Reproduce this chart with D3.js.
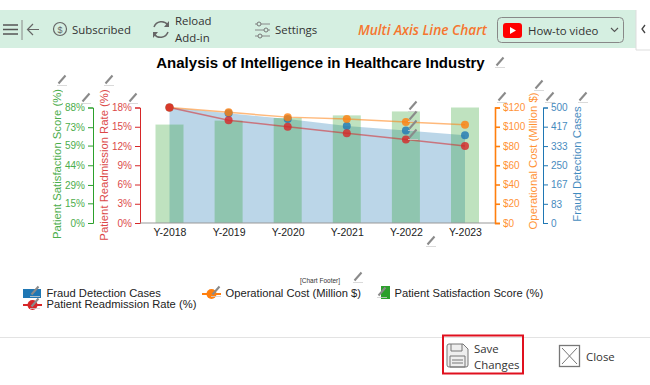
<!DOCTYPE html>
<html>
<head>
<meta charset="utf-8">
<script src="https://cdn.jsdelivr.net/npm/d3@7"></script>
<style>
  html, body { margin: 0; padding: 0; background: #fff; overflow: hidden; }
  svg { display: block; }
  text { font-family: "Liberation Sans", sans-serif; }
  .ui { font-family: "Open Sans", sans-serif; fill: #333; font-size: 11.4px; }
</style>
</head>
<body>
<svg id="chart" width="650" height="385"></svg>
<script>
// Chart values
const years = ['Y-2018', 'Y-2019', 'Y-2020', 'Y-2021', 'Y-2022', 'Y-2023'];
const fraudCases = [500, 475, 450, 420, 400, 380];
const operationalCost = [120, 115, 110, 108, 105, 102];
const satisfactionScore = [75, 78, 80, 82, 85, 88];
const readmissionRate = [18, 16, 15, 14, 13, 12];

const satisfactionTicks = [0, 15, 29, 44, 59, 73, 88];
const readmissionTicks = [0, 3, 6, 9, 12, 15, 18];
const costTicks = [0, 20, 40, 60, 80, 100, 120];
const fraudTicks = [0, 83, 167, 250, 333, 417, 500];

const blue = '#1f77b4', orange = '#ff7f0e', green = '#2ca02c', red = '#d62728';

const svg = d3.select('#chart');
const margin = { top: 107.5, bottom: 223, left: 140, right: 495 };

// Scales
const xScale = d3.scalePoint().domain(years).range([169.5, 465]);
const range = [margin.bottom, margin.top];
const ySatisfaction = d3.scaleLinear().domain([0, 88]).range(range);
const yReadmission = d3.scaleLinear().domain([0, 18]).range(range);
const yCost = d3.scaleLinear().domain([0, 120]).range(range);
const yFraud = d3.scaleLinear().domain([0, 500]).range(range);

/***** Toolbar *****/
svg.append('rect').attr('x', 0).attr('y', 10).attr('width', 636).attr('height', 38).attr('fill', '#d5efe1');
svg.append('path').attr('d', 'M636 10V50H650').attr('fill', 'none').attr('stroke', '#ddd');
svg.append('path').attr('d', 'M645 25l-3 4l3 4').attr('fill', 'none').attr('stroke', '#444').attr('stroke-width', 1.3);

// hamburger + back arrow
svg.append('path').attr('d', 'M3 25H18M3 29.5H18M3 34H18').attr('stroke', '#555').attr('stroke-width', 1.6);
svg.append('path').attr('d', 'M22 20V40').attr('stroke', '#888').attr('stroke-width', 1);
svg.append('path').attr('d', 'M39 29.5H28M33 24l-5.5 5.5l5.5 5.5').attr('fill', 'none').attr('stroke', '#666').attr('stroke-width', 1.2);

// subscribed
svg.append('circle').attr('cx', 60).attr('cy', 29).attr('r', 6.5).attr('fill', 'none').attr('stroke', '#666').attr('stroke-width', 1.2);
svg.append('text').attr('x', 60).attr('y', 32.5).attr('text-anchor', 'middle').attr('font-size', 9).attr('fill', '#666').text('$');
svg.append('text').attr('class', 'ui').attr('x', 72).attr('y', 34).text('Subscribed');

// reload
svg.append('path').attr('d', 'M154 27a8 8 0 0 1 14 -2M168 32a8 8 0 0 1 -14 2').attr('fill', 'none').attr('stroke', '#666').attr('stroke-width', 1.5);
svg.append('path').attr('d', 'M169 21v6h-5zM153 38v-6h5z').attr('fill', '#666');
svg.append('text').attr('class', 'ui').attr('x', 175).attr('y', 25).text('Reload');
svg.append('text').attr('class', 'ui').attr('x', 175).attr('y', 42).text('Add-in');

// settings
svg.append('path').attr('d', 'M255 24H270M255 30H270M255 36H270').attr('stroke', '#888').attr('stroke-width', 1);
[[259, 24], [266, 30], [260, 36]].forEach(d => {
  svg.append('circle').attr('cx', d[0]).attr('cy', d[1]).attr('r', 2).attr('fill', '#d5efe1').attr('stroke', '#777');
});
svg.append('text').attr('class', 'ui').attr('x', 275).attr('y', 34).text('Settings');

svg.append('text').attr('class', 'ui').attr('x', 358).attr('y', 35)
  .attr('font-style', 'italic').attr('font-weight', 600).style('fill', '#f5762f').style('font-size', '13.7px')
  .text('Multi Axis Line Chart');

// how-to video button
svg.append('rect').attr('x', 497.5).attr('y', 17.5).attr('width', 126).attr('height', 25).attr('rx', 4)
  .attr('fill', 'none').attr('stroke', '#888');
svg.append('rect').attr('x', 503).attr('y', 23).attr('width', 19).attr('height', 15).attr('rx', 3).attr('fill', '#f00');
svg.append('path').attr('d', 'M510 27l6 3.5l-6 3.5z').attr('fill', '#fff');
svg.append('text').attr('class', 'ui').attr('x', 528).attr('y', 35).text('How-to video');
svg.append('path').attr('d', 'M611 28l3.5 3.5l3.5 -3.5').attr('fill', 'none').attr('stroke', '#555').attr('stroke-width', 1.1);

/***** Chart *****/
svg.append('text').attr('x', 320.5).attr('y', 68).attr('text-anchor', 'middle')
  .attr('font-size', 15).attr('font-weight', 'bold').attr('fill', '#000')
  .text('Analysis of Intelligence in Healthcare Industry');

// Fraud cases area
const area = d3.area()
  .x((d, i) => xScale(years[i]))
  .y0(margin.bottom)
  .y1(d => yFraud(d));
svg.append('path').datum(fraudCases).attr('d', area).attr('fill', blue).attr('fill-opacity', 0.3);

// Satisfaction bars
const barWidth = 28;
svg.append('g').selectAll('rect').data(satisfactionScore).join('rect')
  .attr('x', (d, i) => xScale(years[i]) - barWidth / 2)
  .attr('width', barWidth)
  .attr('y', d => ySatisfaction(d))
  .attr('height', d => margin.bottom - ySatisfaction(d))
  .attr('fill', green).attr('fill-opacity', 0.3);

function drawLine(values, scale, color) {
  const line = d3.line().x((d, i) => xScale(years[i])).y(d => scale(d));
  svg.append('path').datum(values).attr('d', line)
    .attr('fill', 'none').attr('stroke', color).attr('stroke-width', 1.5).attr('stroke-opacity', 0.55);
}
function drawDots(values, scale, color) {
  svg.append('g').selectAll('circle').data(values).join('circle')
    .attr('cx', (d, i) => xScale(years[i]))
    .attr('cy', d => scale(d))
    .attr('r', 4)
    .attr('fill', color).attr('fill-opacity', 0.8);
}
drawLine(operationalCost, yCost, orange);
drawLine(readmissionRate, yReadmission, red);
drawDots(fraudCases, yFraud, blue);
drawDots(operationalCost, yCost, orange);
drawDots(readmissionRate, yReadmission, red);

// Axes
function drawAxis(axis, x, color, strokeWidth) {
  const g = svg.append('g').attr('transform', `translate(${x},0)`).call(axis);
  g.select('.domain').attr('stroke', color).attr('stroke-width', strokeWidth);
  g.selectAll('.tick line').attr('stroke', color).attr('stroke-width', strokeWidth);
  g.selectAll('.tick text').attr('fill', color).attr('font-size', 10)
    .attr('font-family', '"Liberation Sans", sans-serif').attr('opacity', 0.85);
}
const pct = d => d + '%';
drawAxis(d3.axisLeft(ySatisfaction).tickValues(satisfactionTicks).tickFormat(pct).tickSize(5).tickPadding(3), 93, green, 1);
drawAxis(d3.axisLeft(yReadmission).tickValues(readmissionTicks).tickFormat(pct).tickSize(5).tickPadding(3), 140, red, 1);
drawAxis(d3.axisRight(yCost).tickValues(costTicks).tickFormat(d => '$' + d).tickSize(5).tickPadding(3), 495, orange, 1.6);
drawAxis(d3.axisRight(yFraud).tickValues(fraudTicks).tickSize(5).tickPadding(3), 543, blue, 1);

const xAxis = svg.append('g').attr('transform', `translate(0,${margin.bottom})`)
  .call(d3.axisBottom(xScale).tickSize(0).tickPadding(6));
xAxis.select('.domain').attr('d', `M${margin.left},0H${margin.right}`).attr('stroke', '#999');
xAxis.selectAll('.tick text').attr('font-size', 10.5).attr('fill', '#222')
  .attr('font-family', '"Liberation Sans", sans-serif');

function axisTitle(label, x, y, color) {
  svg.append('text').attr('transform', `translate(${x},${y}) rotate(-90)`)
    .attr('text-anchor', 'middle').attr('font-size', 11.3).attr('fill', color).attr('opacity', 0.85)
    .text(label);
}
axisTitle('Patient Satisfaction Score (%)', 61, 164, green);
axisTitle('Patient Readmission Rate (%)', 108, 165, red);
axisTitle('Operational Cost (Million $)', 537, 161, orange);
axisTitle('Fraud Detection Cases', 581, 164, blue);

/***** Footer + legend *****/
svg.append('text').attr('x', 320).attr('y', 283).attr('text-anchor', 'middle').attr('font-size', 6.5).attr('fill', '#333').text('[Chart Footer]');

function legendText(label, x, y) {
  svg.append('text').attr('x', x).attr('y', y).attr('font-size', 11.2).attr('fill', '#222').text(label);
}
svg.append('rect').attr('x', 23).attr('y', 289).attr('width', 18).attr('height', 9).attr('fill', blue);
legendText('Fraud Detection Cases', 46.5, 297);
svg.append('path').attr('d', 'M202 294H221').attr('stroke', orange).attr('stroke-width', 2);
svg.append('circle').attr('cx', 211.5).attr('cy', 294).attr('r', 5).attr('fill', orange);
legendText('Operational Cost (Million $)', 225.5, 297);
svg.append('rect').attr('x', 381).attr('y', 286).attr('width', 9).attr('height', 13).attr('fill', green);
legendText('Patient Satisfaction Score (%)', 394.5, 297);
svg.append('path').attr('d', 'M23 305H42').attr('stroke', red).attr('stroke-width', 2);
svg.append('circle').attr('cx', 32.5).attr('cy', 305).attr('r', 5).attr('fill', red);
legendText('Patient Readmission Rate (%)', 46.5, 308);

// edit pencils scattered over the chart
const pencils = [[500, 62], [62, 80], [86, 98], [109, 80], [133, 98], [413, 106], [413, 116], [413, 125], [413, 134],
  [502, 97], [539, 85], [550, 97], [583, 97], [431, 241], [358, 277], [35, 291], [216, 291], [382, 292], [35, 303]];
const pencilGroup = svg.append('g').selectAll('g').data(pencils).join('g')
  .attr('transform', d => `translate(${d[0]},${d[1]})`);
pencilGroup.append('path').attr('d', 'M-3.5 3.5L3.5 -4.5').attr('stroke', '#8a8a8a').attr('stroke-width', 2);
pencilGroup.append('path').attr('d', 'M-5 5.5H5').attr('stroke', '#d0d0d0').attr('stroke-width', 0.8);

/***** Bottom buttons *****/
svg.append('path').attr('d', 'M0 337.5H650').attr('stroke', '#e3e3e3');
svg.append('rect').attr('x', 443).attr('y', 335.5).attr('width', 80).attr('height', 38).attr('fill', 'none').attr('stroke', '#e0101e').attr('stroke-width', 2);
svg.append('path').attr('d', 'M447 346a2 2 0 0 1 2 -2H463l5 5V365a2 2 0 0 1 -2 2H449a2 2 0 0 1 -2 -2Z').attr('fill', '#eee').attr('stroke', '#777');
svg.append('path').attr('d', 'M451 344v7h11v-7M450 356h15v11h-15zM452 360h11M452 363h11').attr('fill', 'none').attr('stroke', '#777');
svg.append('text').attr('class', 'ui').attr('x', 474).attr('y', 353).text('Save');
svg.append('text').attr('class', 'ui').attr('x', 474).attr('y', 368.5).text('Changes');
svg.append('rect').attr('x', 559.5).attr('y', 345.5).attr('width', 20).attr('height', 21).attr('fill', 'none').attr('stroke', '#777').attr('stroke-width', 1.3);
svg.append('path').attr('d', 'M562 348L577 364M577 348L562 364').attr('stroke', '#777');
svg.append('text').attr('class', 'ui').attr('x', 586).attr('y', 361).text('Close');
</script>
</body>
</html>
